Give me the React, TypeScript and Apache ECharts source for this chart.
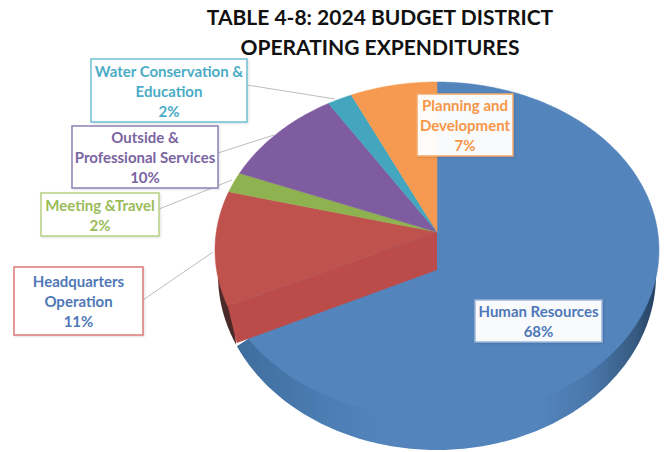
import React, { useEffect, useRef } from "react";
import * as echarts from "echarts";

const TITLE = "TABLE 4-8: 2024 BUDGET DISTRICT\nOPERATING EXPENDITURES";
const categories = [
  "Human Resources",
  "Headquarters\nOperation",
  "Meeting &Travel",
  "Outside &\nProfessional Services",
  "Water Conservation &\nEducation",
  "Planning and\nDevelopment",
];
const percents = [68, 11, 2, 10, 2, 7];

const faceColors = ["#5384BC", "#C0524E", "#8FB250", "#7F5BA0", "#43A5BE", "#F59A50"];
const textColors = ["#4F78B8", "#4F78B8", "#9BBB59", "#7A64A2", "#4BACC6", "#F79646"];
const borderColors = ["#9DB7DA", "#DC7A78", "#B8CE85", "#8F80B5", "#6FC0D2", "#F5A868"];
const boxes = [
  [475, 300, 127, 42],
  [14, 267, 129, 68],
  [41, 193, 118, 43],
  [72, 126, 146, 62],
  [91, 59, 156, 63],
  [417, 94, 96, 62],
];
const leaders: (number[] | null)[] = [
  null,
  [143, 300, 213, 252],
  [159, 209, 232, 180],
  [218, 153, 274, 135],
  [247, 85, 335, 99],
  null,
];

const top = { cx: 437, cy: 250, rx: 222, ry: 168 };
const base = { cx: 437, cy: 275, rx: 219, ry: 175 };
const PERSPECTIVE = 0.107; // pie centre lies above the middle of the ellipse
const WALL_DX = 9;
const WALL_DY = 37;

const rad = (d: number) => (d * Math.PI) / 180;

// clockwise-from-top pie angle -> unit-circle position after the 3D tilt
function warp(deg: number) {
  const u = Math.sin(rad(deg));
  const v = -Math.cos(rad(deg));
  const c = PERSPECTIVE;
  const k = 1 - c * v;
  return [(u * Math.sqrt(1 - c * c)) / k, (v - c) / k];
}
const warpedParam = (deg: number) => {
  const [u, v] = warp(deg);
  let a = (Math.atan2(u, -v) * 180) / Math.PI;
  if (a < 0) a += 360;
  return a;
};
const onEllipse = (e: typeof top, deg: number) => [
  e.cx + e.rx * Math.sin(rad(deg)),
  e.cy - e.ry * Math.cos(rad(deg)),
];
const onTop = (deg: number) => {
  const [u, v] = warp(deg);
  return [top.cx + top.rx * u, top.cy + top.ry * v];
};
const onTopCentre = [top.cx, top.cy - PERSPECTIVE * top.ry];

const total = percents.reduce((a, b) => a + b, 0);

function renderSlice(params: any, api: any) {
  const i = params.dataIndex;
  const value = api.value(0);
  const before = percents.slice(0, i).reduce((a, b) => a + b, 0);
  const a0 = (before / total) * 360;
  const a1 = a0 + (value / total) * 360;
  const children: any[] = [];
  const centre = onTopCentre;

  const facePts: number[][] = [centre];
  const n = Math.max(4, Math.ceil(a1 - a0));
  for (let k = 0; k <= n; k++) facePts.push(onTop(a0 + ((a1 - a0) * k) / n));

  const endParam = warpedParam(a1);

  if (i === 0) {
    const pts: number[][] = [];
    for (let d = 90; d <= endParam - 4; d += 1) pts.push(onEllipse(base, d));
    pts.push([base.cx, base.cy - 60]);
    children.push({
      type: "polygon",
      shape: { points: pts },
      style: {
        fill: new echarts.graphic.LinearGradient(0, 0, 1, 0, [
          { offset: 0, color: "#3F6D9C" },
          { offset: 0.2, color: "#4B7CB2" },
          { offset: 0.35, color: "#5384BC" },
          { offset: 0.72, color: "#5384BC" },
          { offset: 0.84, color: "#4A78AC" },
          { offset: 0.95, color: "#375B82" },
          { offset: 1, color: "#243F5E" },
        ]),
      },
    });
  }
  if (i === 1) {
    const pts: number[][] = [];
    for (let d = warpedParam(a0) - 4; d <= 285; d += 1) pts.push(onEllipse(base, d));
    children.push({
      type: "polygon",
      shape: { points: pts },
      style: { fill: "#4A2B2A" },
    });
  }

  children.push({
    type: "polygon",
    shape: { points: facePts },
    style: { fill: faceColors[i], stroke: faceColors[i], lineWidth: 0.5 },
  });

  if (i === 1) {
    const seam = onTop(a0);
    children.push({
      type: "polygon",
      shape: {
        points: [
          centre,
          seam,
          [seam[0] + WALL_DX, seam[1] + WALL_DY],
          [centre[0], centre[1] + WALL_DY + 1],
        ],
      },
      style: { fill: "#BC4C49" },
    });
  }

  const line = leaders[i];
  if (line) {
    children.push({
      type: "line",
      shape: { x1: line[0], y1: line[1], x2: line[2], y2: line[3] },
      style: { stroke: "#BDBDBD", lineWidth: 1 },
    });
  }

  const [bx, by, bw, bh] = boxes[i];
  children.push({
    type: "rect",
    shape: { x: bx, y: by, width: bw, height: bh },
    style: {
      fill: "rgba(255,255,255,0.96)",
      stroke: borderColors[i],
      lineWidth: 1.5,
      shadowColor: "rgba(0,0,0,0.12)",
      shadowBlur: 2,
      shadowOffsetX: 1,
      shadowOffsetY: 1,
    },
    z2: 10,
  });
  children.push({
    type: "text",
    x: bx + bw / 2,
    y: by + bh / 2,
    style: {
      text: `${categories[i]}\n${value}%`,
      align: "center",
      verticalAlign: "middle",
      fontFamily: "Lato",
      fontWeight: "bold",
      fontSize: 15,
      lineHeight: 20,
      fill: textColors[i],
    },
    z2: 11,
  });

  return { type: "group", children };
}

export default function App() {
  const ref = useRef<HTMLDivElement>(null);
  useEffect(() => {
    document.body.style.margin = "0";
    const chart = echarts.init(ref.current!, undefined, { renderer: "svg" });
    chart.setOption({
      animation: false,
      backgroundColor: "#FFFFFF",
      title: {
        text: TITLE,
        left: 380,
        top: 1,
        textAlign: "center",
        padding: 0,
        textStyle: {
          fontFamily: "Lato",
          fontWeight: "bold",
          fontSize: 21,
          lineHeight: 30,
          color: "#111111",
        },
      },
      series: [
        {
          type: "custom",
          coordinateSystem: "none",
          silent: true,
          renderItem: renderSlice,
          data: percents.map((p, i) => ({ name: categories[i], value: [p] })),
        },
      ],
    });
    return () => chart.dispose();
  }, []);
  return <div ref={ref} style={{ width: 665, height: 452 }} />;
}
